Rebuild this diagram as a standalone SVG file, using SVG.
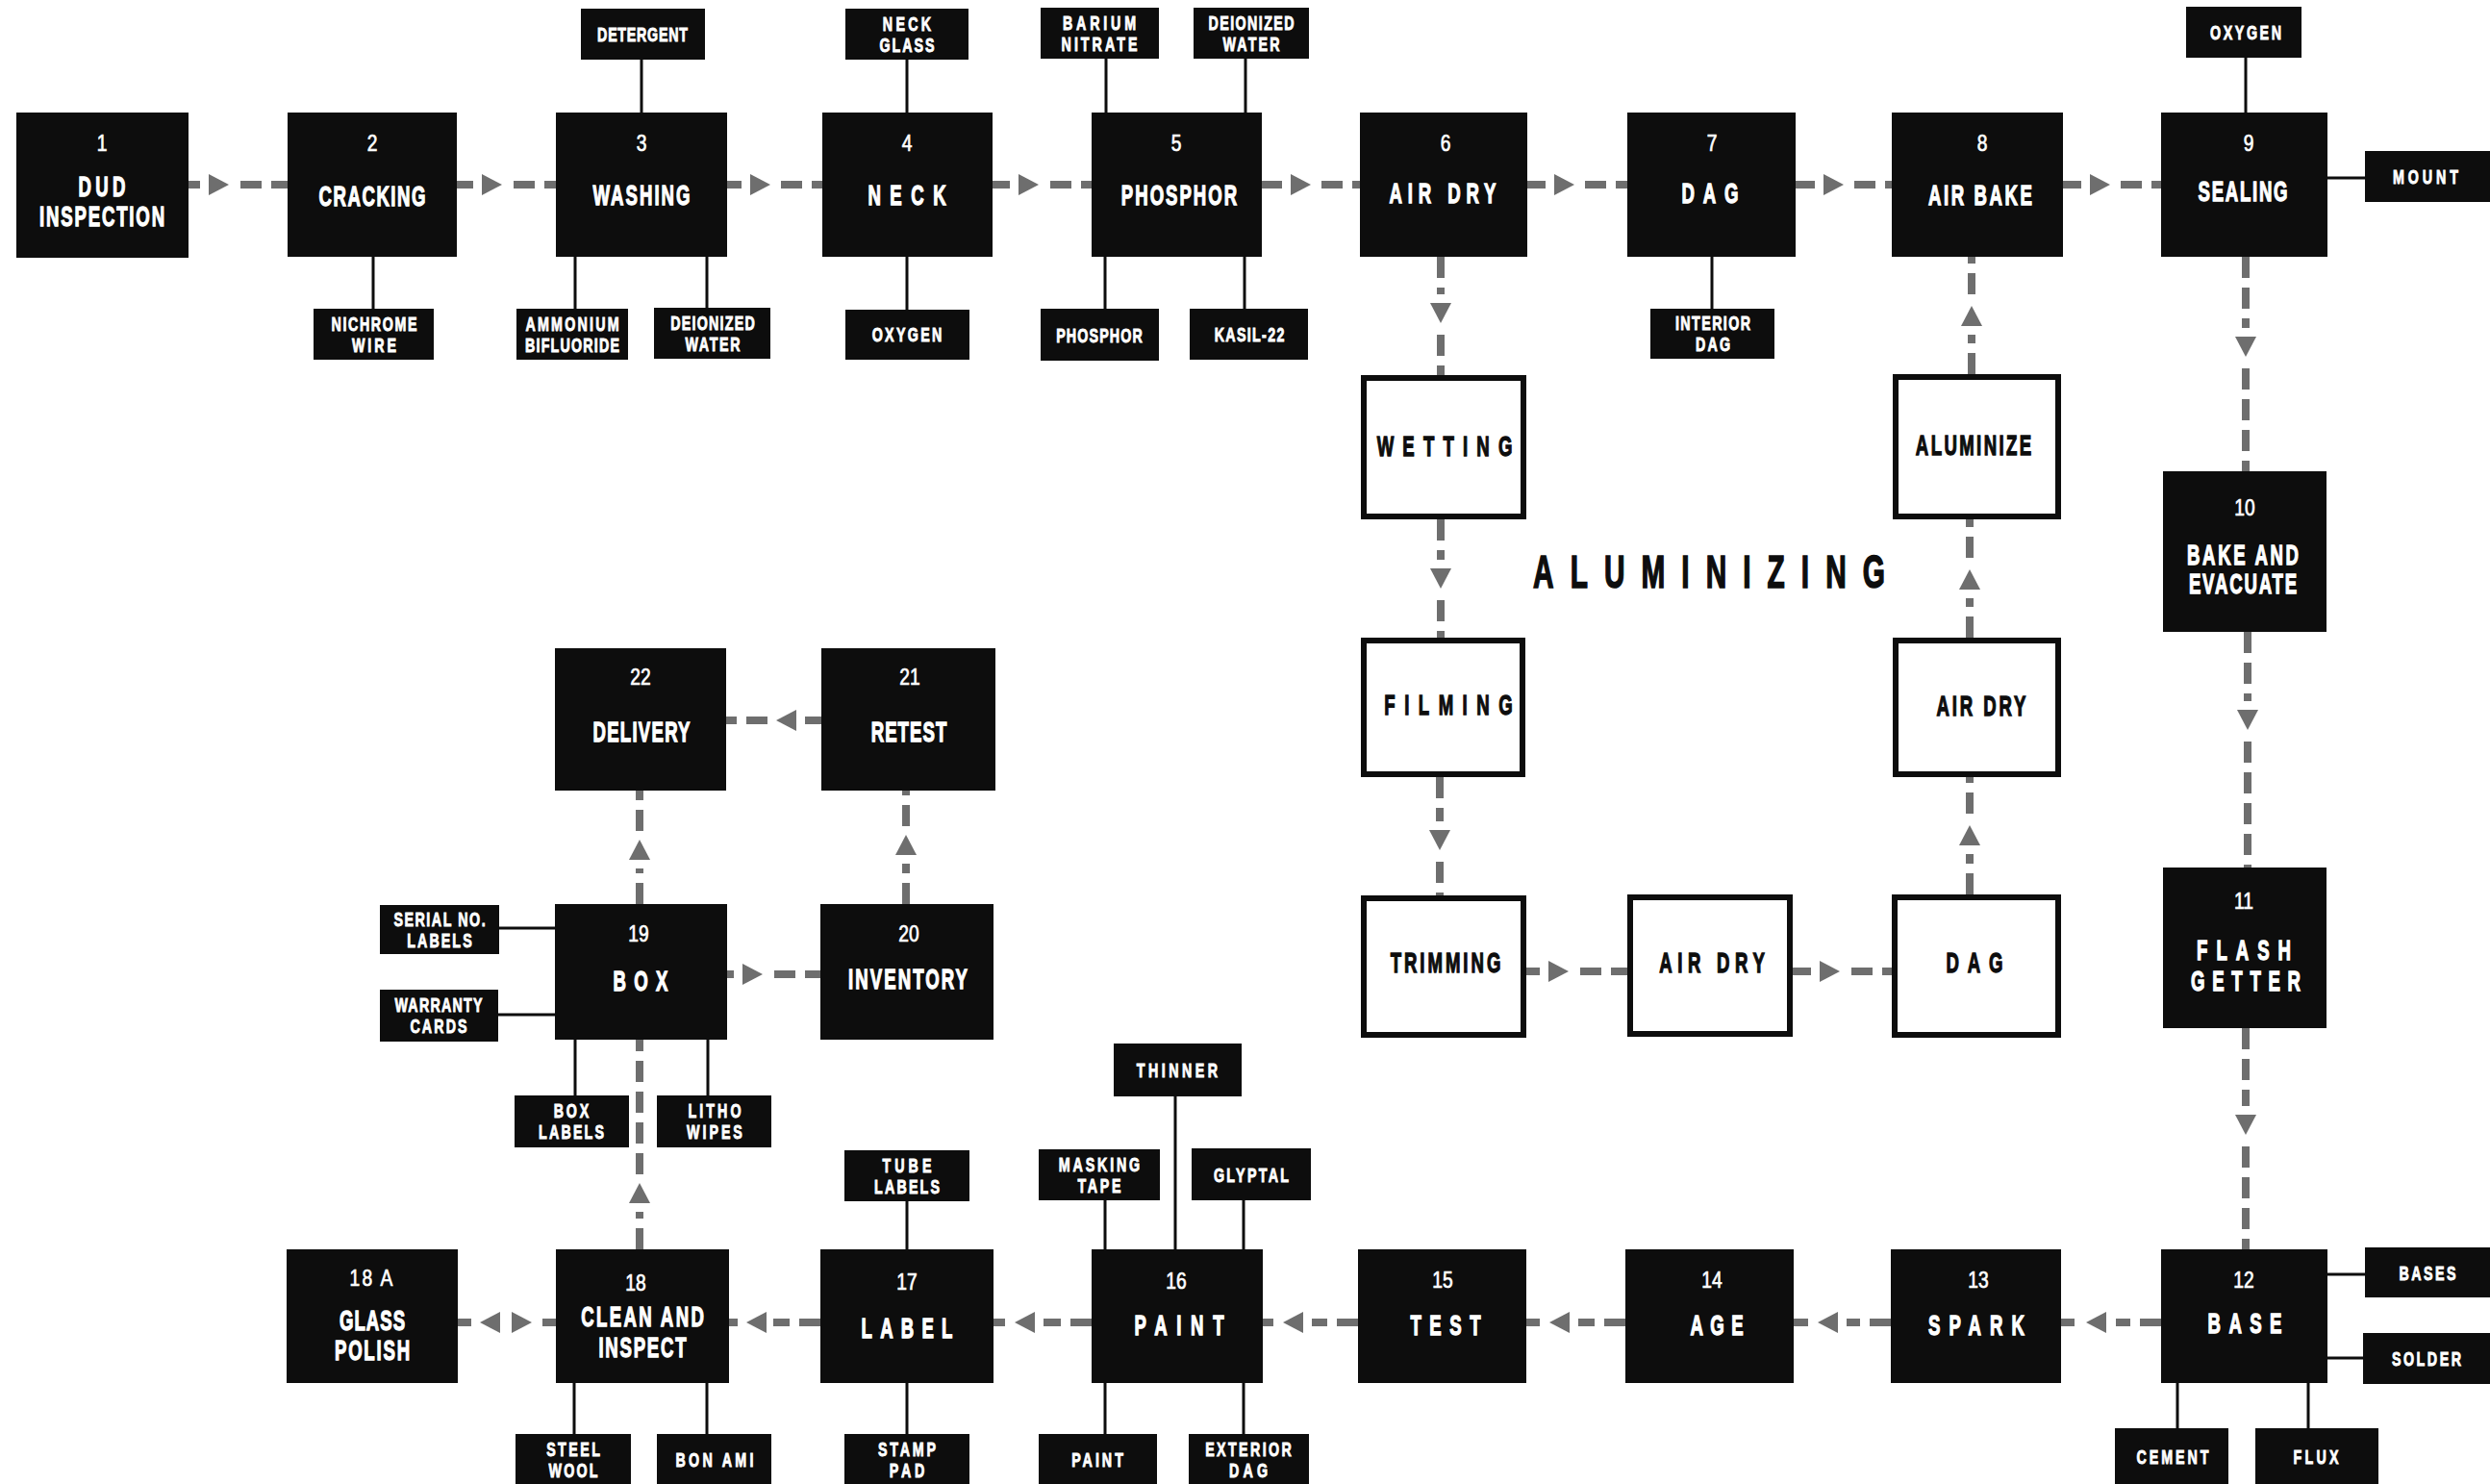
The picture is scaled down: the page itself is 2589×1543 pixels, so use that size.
<svg xmlns="http://www.w3.org/2000/svg" xmlns:xlink="http://www.w3.org/1999/xlink" width="2589" height="1543" viewBox="0 0 2589 1543">
<style>
.b{fill:#0d0d0d}
.w{fill:#fff;stroke:#0d0d0d;stroke-width:6}
.l{stroke:#0d0d0d;stroke-width:3;fill:none}
.d{stroke:#6e6e6e;stroke-width:8;stroke-dasharray:22 10;fill:none}
.t{fill:#6e6e6e}
text{font-family:"Liberation Sans",Arial,sans-serif;font-weight:bold;text-anchor:middle;fill:#fff;stroke:#fff}
.m{font-size:30px;stroke-width:1.3}
.n{font-size:24px;font-weight:normal;stroke-width:0.7}
.s{font-size:21px;stroke-width:0.9}
.k{fill:#0d0d0d;stroke:#0d0d0d}
.big{font-size:48px;fill:#0d0d0d;stroke:#0d0d0d;stroke-width:1.6}
</style>
<defs>
<path id="ar" d="M0,-11 L21,0 L0,11 Z"/>
</defs>
<rect width="2589" height="1543" fill="#fff"/>
<g id="connectors">
<path class="d" d="M196,192H208 M250,192H299"/><use xlink:href="#ar" class="t" transform="translate(217,192)"/>
<path class="d" d="M475,192H492 M534,192H578"/><use xlink:href="#ar" class="t" transform="translate(501,192)"/>
<path class="d" d="M756,192H771 M812,192H855"/><use xlink:href="#ar" class="t" transform="translate(780,192)"/>
<path class="d" d="M1032,192H1050 M1092,192H1135"/><use xlink:href="#ar" class="t" transform="translate(1059,192)"/>
<path class="d" d="M1312,192H1333 M1374,192H1414"/><use xlink:href="#ar" class="t" transform="translate(1342,192)"/>
<path class="d" d="M1588,192H1607 M1648,192H1692"/><use xlink:href="#ar" class="t" transform="translate(1616,192)"/>
<path class="d" d="M1867,192H1887 M1928,192H1967"/><use xlink:href="#ar" class="t" transform="translate(1896,192)"/>
<path class="d" d="M2145,192H2164 M2205,192H2247"/><use xlink:href="#ar" class="t" transform="translate(2173,192)"/>
<path class="d" d="M1498,267V306 M1498,348V390"/><use xlink:href="#ar" class="t" transform="translate(1498,315) rotate(90)"/>
<path class="d" d="M1498,540V582 M1498,624V663"/><use xlink:href="#ar" class="t" transform="translate(1498,591) rotate(90)"/>
<path class="d" d="M1497,808V854 M1497,896V931"/><use xlink:href="#ar" class="t" transform="translate(1497,863) rotate(90)"/>
<path class="d" d="M1587,1010H1601 M1643,1010H1692"/><use xlink:href="#ar" class="t" transform="translate(1610,1010)"/>
<path class="d" d="M1864,1010H1883 M1925,1010H1967"/><use xlink:href="#ar" class="t" transform="translate(1892,1010)"/>
<path class="d" d="M2048,930V888 M2048,846V808"/><use xlink:href="#ar" class="t" transform="translate(2048,879) rotate(-90)"/>
<path class="d" d="M2048,663V622 M2048,580V540"/><use xlink:href="#ar" class="t" transform="translate(2048,613) rotate(-90)"/>
<path class="d" d="M2050,389V348 M2050,306V267"/><use xlink:href="#ar" class="t" transform="translate(2050,339) rotate(-90)"/>
<path class="d" d="M2335,267V341 M2335,383V490"/><use xlink:href="#ar" class="t" transform="translate(2335,350) rotate(90)"/>
<path class="d" d="M2337,657V729 M2337,771V902"/><use xlink:href="#ar" class="t" transform="translate(2337,738) rotate(90)"/>
<path class="d" d="M2335,1069V1150 M2335,1192V1299"/><use xlink:href="#ar" class="t" transform="translate(2335,1159) rotate(90)"/>
<path class="d" d="M2247,1375H2200 M2157,1375H2143"/><use xlink:href="#ar" class="t" transform="translate(2190,1375) rotate(180)"/>
<path class="d" d="M1966,1375H1920 M1880,1375H1865"/><use xlink:href="#ar" class="t" transform="translate(1911,1375) rotate(180)"/>
<path class="d" d="M1690,1375H1641 M1601,1375H1587"/><use xlink:href="#ar" class="t" transform="translate(1632,1375) rotate(180)"/>
<path class="d" d="M1412,1375H1364 M1324,1375H1313"/><use xlink:href="#ar" class="t" transform="translate(1355,1375) rotate(180)"/>
<path class="d" d="M1135,1375H1085 M1045,1375H1033"/><use xlink:href="#ar" class="t" transform="translate(1076,1375) rotate(180)"/>
<path class="d" d="M853,1375H804 M767,1375H758"/><use xlink:href="#ar" class="t" transform="translate(797,1375) rotate(180)"/>
<path class="d" d="M476,1375H490 M564,1375H578"/><use xlink:href="#ar" class="t" transform="translate(520,1375) rotate(180)"/><use xlink:href="#ar" class="t" transform="translate(532,1375)"/>
<path class="d" d="M665,1299V1260 M665,1221V1081"/><use xlink:href="#ar" class="t" transform="translate(665,1251) rotate(-90)"/>
<path class="d" d="M665,940V903 M665,864V822"/><use xlink:href="#ar" class="t" transform="translate(665,894) rotate(-90)"/>
<path class="d" d="M942,940V898 M942,859V822"/><use xlink:href="#ar" class="t" transform="translate(942,889) rotate(-90)"/>
<path class="d" d="M756,1013H763 M805,1013H853"/><use xlink:href="#ar" class="t" transform="translate(772,1013)"/>
<path class="d" d="M854,749H837 M798,749H755"/><use xlink:href="#ar" class="t" transform="translate(828,749) rotate(180)"/>
<path class="l" d="M667,62V117 M943,62V117 M1150,61V117 M1295,61V117 M2335,60V117 M2420,185H2459
M388,267V321 M598,267V321 M735,267V320 M943,267V322 M1149,267V321 M1294,267V321 M1780,267V321
M519,965H577 M518,1055H577 M598,1081V1139 M736,1081V1139
M1222,1140V1299 M1149,1248V1299 M1293,1248V1299 M943,1249V1299
M597,1438V1491 M735,1438V1491 M943,1438V1491 M1149,1438V1491 M1293,1438V1491
M2420,1325H2459 M2420,1412H2457 M2264,1438V1485 M2400,1438V1485"/>
</g>

<g id="n1"><rect class="b" x="17" y="117" width="179" height="151"/>
<text class="n" transform="translate(106,157) scale(0.8,1)">1</text>
<text class="m" transform="translate(106,204) scale(0.62,1)" textLength="79" lengthAdjust="spacing">DUD</text>
<text class="m" transform="translate(106,235) scale(0.62,1)" textLength="210" lengthAdjust="spacing">INSPECTION</text></g>
<g id="n2"><rect class="b" x="299" y="117" width="176" height="150"/>
<text class="n" transform="translate(387,157) scale(0.8,1)">2</text>
<text class="m" transform="translate(387,214) scale(0.62,1)" textLength="179" lengthAdjust="spacing">CRACKING</text></g>
<g id="n3"><rect class="b" x="578" y="117" width="178" height="150"/>
<text class="n" transform="translate(667,157) scale(0.8,1)">3</text>
<text class="m" transform="translate(667,213) scale(0.62,1)" textLength="163" lengthAdjust="spacing">WASHING</text></g>
<g id="n4"><rect class="b" x="855" y="117" width="177" height="150"/>
<text class="n" transform="translate(943,157) scale(0.8,1)">4</text>
<text class="m" transform="translate(943,213) scale(0.62,1)" textLength="131" lengthAdjust="spacing">NECK</text></g>
<g id="n5"><rect class="b" x="1135" y="117" width="177" height="150"/>
<text class="n" transform="translate(1223,157) scale(0.8,1)">5</text>
<text class="m" transform="translate(1226,213) scale(0.62,1)" textLength="194" lengthAdjust="spacing">PHOSPHOR</text></g>
<g id="n6"><rect class="b" x="1414" y="117" width="174" height="150"/>
<text class="n" transform="translate(1503,157) scale(0.8,1)">6</text>
<text class="m" transform="translate(1500,211) scale(0.62,1)" textLength="179" lengthAdjust="spacing">AIR DRY</text></g>
<g id="n7"><rect class="b" x="1692" y="117" width="175" height="150"/>
<text class="n" transform="translate(1780,157) scale(0.8,1)">7</text>
<text class="m" transform="translate(1778,211) scale(0.62,1)" textLength="95" lengthAdjust="spacing">DAG</text></g>
<g id="n8"><rect class="b" x="1967" y="117" width="178" height="150"/>
<text class="n" transform="translate(2061,157) scale(0.8,1)">8</text>
<text class="m" transform="translate(2059,213) scale(0.62,1)" textLength="174" lengthAdjust="spacing">AIR BAKE</text></g>
<g id="n9"><rect class="b" x="2247" y="117" width="173" height="150"/>
<text class="n" transform="translate(2338,157) scale(0.8,1)">9</text>
<text class="m" transform="translate(2332,209) scale(0.62,1)" textLength="150" lengthAdjust="spacing">SEALING</text></g>
<g id="n10"><rect class="b" x="2249" y="490" width="170" height="167"/>
<text class="n" transform="translate(2334,536) scale(0.8,1)">10</text>
<text class="m" transform="translate(2332,587) scale(0.62,1)" textLength="187" lengthAdjust="spacing">BAKE AND</text>
<text class="m" transform="translate(2332,617) scale(0.62,1)" textLength="181" lengthAdjust="spacing">EVACUATE</text></g>
<g id="n11"><rect class="b" x="2249" y="902" width="170" height="167"/>
<text class="n" transform="translate(2333,945) scale(0.8,1)">11</text>
<text class="m" transform="translate(2333,998) scale(0.62,1)" textLength="158" lengthAdjust="spacing">FLASH</text>
<text class="m" transform="translate(2335,1030) scale(0.62,1)" textLength="184" lengthAdjust="spacing">GETTER</text></g>
<g id="n12"><rect class="b" x="2247" y="1299" width="173" height="139"/>
<text class="n" transform="translate(2333,1339) scale(0.8,1)">12</text>
<text class="m" transform="translate(2334,1386) scale(0.62,1)" textLength="124" lengthAdjust="spacing">BASE</text></g>
<g id="n13"><rect class="b" x="1966" y="1299" width="177" height="139"/>
<text class="n" transform="translate(2057,1339) scale(0.8,1)">13</text>
<text class="m" transform="translate(2055,1388) scale(0.62,1)" textLength="161" lengthAdjust="spacing">SPARK</text></g>
<g id="n14"><rect class="b" x="1690" y="1299" width="175" height="139"/>
<text class="n" transform="translate(1780,1339) scale(0.8,1)">14</text>
<text class="m" transform="translate(1785,1388) scale(0.62,1)" textLength="89" lengthAdjust="spacing">AGE</text></g>
<g id="n15"><rect class="b" x="1412" y="1299" width="175" height="139"/>
<text class="n" transform="translate(1500,1339) scale(0.8,1)">15</text>
<text class="m" transform="translate(1503,1388) scale(0.62,1)" textLength="118" lengthAdjust="spacing">TEST</text></g>
<g id="n16"><rect class="b" x="1135" y="1299" width="178" height="139"/>
<text class="n" transform="translate(1223,1340) scale(0.8,1)">16</text>
<text class="m" transform="translate(1226,1388) scale(0.62,1)" textLength="150" lengthAdjust="spacing">PAINT</text></g>
<g id="n17"><rect class="b" x="853" y="1299" width="180" height="139"/>
<text class="n" transform="translate(943,1341) scale(0.8,1)">17</text>
<text class="m" transform="translate(943,1391) scale(0.62,1)" textLength="153" lengthAdjust="spacing">LABEL</text></g>
<g id="n18"><rect class="b" x="578" y="1299" width="180" height="139"/>
<text class="n" transform="translate(661,1342) scale(0.8,1)">18</text>
<text class="m" transform="translate(668,1379) scale(0.62,1)" textLength="206" lengthAdjust="spacing">CLEAN AND</text>
<text class="m" transform="translate(668,1411) scale(0.62,1)" textLength="147" lengthAdjust="spacing">INSPECT</text></g>
<g id="n18a"><rect class="b" x="298" y="1299" width="178" height="139"/>
<text class="n" transform="translate(386,1337) scale(0.8,1)" textLength="56" lengthAdjust="spacing">18 A</text>
<text class="m" transform="translate(387,1383) scale(0.62,1)" textLength="110" lengthAdjust="spacing">GLASS</text>
<text class="m" transform="translate(387,1414) scale(0.62,1)" textLength="126" lengthAdjust="spacing">POLISH</text></g>
<g id="n19"><rect class="b" x="577" y="940" width="179" height="141"/>
<text class="n" transform="translate(664,979) scale(0.8,1)">19</text>
<text class="m" transform="translate(666,1030) scale(0.62,1)" textLength="92" lengthAdjust="spacing">BOX</text></g>
<g id="n20"><rect class="b" x="853" y="940" width="180" height="141"/>
<text class="n" transform="translate(945,979) scale(0.8,1)">20</text>
<text class="m" transform="translate(944,1028) scale(0.62,1)" textLength="200" lengthAdjust="spacing">INVENTORY</text></g>
<g id="n21"><rect class="b" x="854" y="674" width="181" height="148"/>
<text class="n" transform="translate(946,712) scale(0.8,1)">21</text>
<text class="m" transform="translate(945,771) scale(0.62,1)" textLength="127" lengthAdjust="spacing">RETEST</text></g>
<g id="n22"><rect class="b" x="577" y="674" width="178" height="148"/>
<text class="n" transform="translate(666,712) scale(0.8,1)">22</text>
<text class="m" transform="translate(667,771) scale(0.62,1)" textLength="163" lengthAdjust="spacing">DELIVERY</text></g>

<g id="wetting"><rect class="w" x="1418" y="393" width="166" height="144"/>
<text class="m k" transform="translate(1502,474) scale(0.62,1)" textLength="227" lengthAdjust="spacing">WETTING</text></g>
<g id="filming"><rect class="w" x="1418" y="666" width="165" height="139"/>
<text class="m k" transform="translate(1506,743) scale(0.62,1)" textLength="215" lengthAdjust="spacing">FILMING</text></g>
<g id="trimming"><rect class="w" x="1418" y="934" width="166" height="142"/>
<text class="m k" transform="translate(1503,1011) scale(0.62,1)" textLength="185" lengthAdjust="spacing">TRIMMING</text></g>
<g id="airdry-b"><rect class="w" x="1695" y="933" width="166" height="142"/>
<text class="m k" transform="translate(1780,1011) scale(0.62,1)" textLength="177" lengthAdjust="spacing">AIR DRY</text></g>
<g id="dag-w"><rect class="w" x="1970" y="933" width="170" height="143"/>
<text class="m k" transform="translate(2053,1011) scale(0.62,1)" textLength="95" lengthAdjust="spacing">DAG</text></g>
<g id="airdry-r"><rect class="w" x="1971" y="666" width="169" height="139"/>
<text class="m k" transform="translate(2060,744) scale(0.62,1)" textLength="150" lengthAdjust="spacing">AIR DRY</text></g>
<g id="aluminize"><rect class="w" x="1971" y="392" width="169" height="145"/>
<text class="m k" transform="translate(2052,473) scale(0.62,1)" textLength="194" lengthAdjust="spacing">ALUMINIZE</text></g>
<g id="title"><text class="big" transform="translate(1777,611) scale(0.62,1)" textLength="590" lengthAdjust="spacing">ALUMINIZING</text></g>

<g id="s-detergent"><rect class="b" x="604" y="9" width="129" height="53"/>
<text class="s" transform="translate(668,43) scale(0.68,1)" textLength="138" lengthAdjust="spacing">DETERGENT</text></g>
<g id="s-neckglass"><rect class="b" x="879" y="9" width="128" height="53"/>
<text class="s" transform="translate(943,32) scale(0.68,1)" textLength="74" lengthAdjust="spacing">NECK</text>
<text class="s" transform="translate(943,54) scale(0.68,1)" textLength="84" lengthAdjust="spacing">GLASS</text></g>
<g id="s-barium"><rect class="b" x="1082" y="8" width="123" height="53"/>
<text class="s" transform="translate(1143,31) scale(0.68,1)" textLength="112" lengthAdjust="spacing">BARIUM</text>
<text class="s" transform="translate(1143,53) scale(0.68,1)" textLength="116" lengthAdjust="spacing">NITRATE</text></g>
<g id="s-deion1"><rect class="b" x="1241" y="8" width="120" height="53"/>
<text class="s" transform="translate(1301,31) scale(0.68,1)" textLength="131" lengthAdjust="spacing">DEIONIZED</text>
<text class="s" transform="translate(1301,53) scale(0.68,1)" textLength="87" lengthAdjust="spacing">WATER</text></g>
<g id="s-oxygen9"><rect class="b" x="2273" y="7" width="120" height="53"/>
<text class="s" transform="translate(2335,41) scale(0.68,1)" textLength="109" lengthAdjust="spacing">OXYGEN</text></g>
<g id="s-mount"><rect class="b" x="2459" y="157" width="130" height="53"/>
<text class="s" transform="translate(2522,191) scale(0.68,1)" textLength="100" lengthAdjust="spacing">MOUNT</text></g>
<g id="s-nichrome"><rect class="b" x="326" y="321" width="125" height="53"/>
<text class="s" transform="translate(389,344) scale(0.68,1)" textLength="131" lengthAdjust="spacing">NICHROME</text>
<text class="s" transform="translate(389,366) scale(0.68,1)" textLength="68" lengthAdjust="spacing">WIRE</text></g>
<g id="s-ammonium"><rect class="b" x="537" y="321" width="116" height="53"/>
<text class="s" transform="translate(595,344) scale(0.68,1)" textLength="143" lengthAdjust="spacing">AMMONIUM</text>
<text class="s" transform="translate(595,366) scale(0.68,1)" textLength="144" lengthAdjust="spacing">BIFLUORIDE</text></g>
<g id="s-deion2"><rect class="b" x="680" y="320" width="121" height="53"/>
<text class="s" transform="translate(741,343) scale(0.68,1)" textLength="129" lengthAdjust="spacing">DEIONIZED</text>
<text class="s" transform="translate(741,365) scale(0.68,1)" textLength="84" lengthAdjust="spacing">WATER</text></g>
<g id="s-oxygen4"><rect class="b" x="879" y="322" width="129" height="52"/>
<text class="s" transform="translate(943,355) scale(0.68,1)" textLength="107" lengthAdjust="spacing">OXYGEN</text></g>
<g id="s-phosphor"><rect class="b" x="1082" y="321" width="123" height="54"/>
<text class="s" transform="translate(1143,356) scale(0.68,1)" textLength="132" lengthAdjust="spacing">PHOSPHOR</text></g>
<g id="s-kasil"><rect class="b" x="1237" y="321" width="123" height="53"/>
<text class="s" transform="translate(1299,355) scale(0.68,1)" textLength="107" lengthAdjust="spacing">KASIL-22</text></g>
<g id="s-intdag"><rect class="b" x="1716" y="321" width="129" height="52"/>
<text class="s" transform="translate(1781,343) scale(0.68,1)" textLength="115" lengthAdjust="spacing">INTERIOR</text>
<text class="s" transform="translate(1781,365) scale(0.68,1)" textLength="53" lengthAdjust="spacing">DAG</text></g>
<g id="s-serial"><rect class="b" x="395" y="941" width="124" height="51"/>
<text class="s" transform="translate(457,963) scale(0.68,1)" textLength="140" lengthAdjust="spacing">SERIAL NO.</text>
<text class="s" transform="translate(457,985) scale(0.68,1)" textLength="99" lengthAdjust="spacing">LABELS</text></g>
<g id="s-warranty"><rect class="b" x="395" y="1029" width="123" height="54"/>
<text class="s" transform="translate(456,1052) scale(0.68,1)" textLength="134" lengthAdjust="spacing">WARRANTY</text>
<text class="s" transform="translate(456,1074) scale(0.68,1)" textLength="87" lengthAdjust="spacing">CARDS</text></g>
<g id="s-boxlabels"><rect class="b" x="535" y="1139" width="119" height="54"/>
<text class="s" transform="translate(594,1162) scale(0.68,1)" textLength="54" lengthAdjust="spacing">BOX</text>
<text class="s" transform="translate(594,1184) scale(0.68,1)" textLength="100" lengthAdjust="spacing">LABELS</text></g>
<g id="s-litho"><rect class="b" x="683" y="1139" width="119" height="54"/>
<text class="s" transform="translate(743,1162) scale(0.68,1)" textLength="81" lengthAdjust="spacing">LITHO</text>
<text class="s" transform="translate(743,1184) scale(0.68,1)" textLength="85" lengthAdjust="spacing">WIPES</text></g>
<g id="s-thinner"><rect class="b" x="1158" y="1085" width="133" height="55"/>
<text class="s" transform="translate(1224,1120) scale(0.68,1)" textLength="124" lengthAdjust="spacing">THINNER</text></g>
<g id="s-masking"><rect class="b" x="1080" y="1195" width="126" height="53"/>
<text class="s" transform="translate(1143,1218) scale(0.68,1)" textLength="124" lengthAdjust="spacing">MASKING</text>
<text class="s" transform="translate(1143,1240) scale(0.68,1)" textLength="66" lengthAdjust="spacing">TAPE</text></g>
<g id="s-glyptal"><rect class="b" x="1239" y="1194" width="124" height="54"/>
<text class="s" transform="translate(1301,1229) scale(0.68,1)" textLength="115" lengthAdjust="spacing">GLYPTAL</text></g>
<g id="s-tubelabels"><rect class="b" x="878" y="1196" width="130" height="53"/>
<text class="s" transform="translate(943,1219) scale(0.68,1)" textLength="75" lengthAdjust="spacing">TUBE</text>
<text class="s" transform="translate(943,1241) scale(0.68,1)" textLength="100" lengthAdjust="spacing">LABELS</text></g>
<g id="s-steelwool"><rect class="b" x="536" y="1491" width="120" height="52"/>
<text class="s" transform="translate(596,1514) scale(0.68,1)" textLength="82" lengthAdjust="spacing">STEEL</text>
<text class="s" transform="translate(596,1536) scale(0.68,1)" textLength="75" lengthAdjust="spacing">WOOL</text></g>
<g id="s-bonami"><rect class="b" x="683" y="1491" width="119" height="52"/>
<text class="s" transform="translate(743,1525) scale(0.68,1)" textLength="119" lengthAdjust="spacing">BON AMI</text></g>
<g id="s-stamppad"><rect class="b" x="878" y="1491" width="130" height="52"/>
<text class="s" transform="translate(943,1514) scale(0.68,1)" textLength="88" lengthAdjust="spacing">STAMP</text>
<text class="s" transform="translate(943,1536) scale(0.68,1)" textLength="54" lengthAdjust="spacing">PAD</text></g>
<g id="s-paint"><rect class="b" x="1080" y="1491" width="123" height="52"/>
<text class="s" transform="translate(1141,1525) scale(0.68,1)" textLength="79" lengthAdjust="spacing">PAINT</text></g>
<g id="s-extdag"><rect class="b" x="1236" y="1491" width="125" height="52"/>
<text class="s" transform="translate(1298,1514) scale(0.68,1)" textLength="132" lengthAdjust="spacing">EXTERIOR</text>
<text class="s" transform="translate(1298,1536) scale(0.68,1)" textLength="59" lengthAdjust="spacing">DAG</text></g>
<g id="s-bases"><rect class="b" x="2459" y="1297" width="130" height="52"/>
<text class="s" transform="translate(2524,1331) scale(0.68,1)" textLength="87" lengthAdjust="spacing">BASES</text></g>
<g id="s-solder"><rect class="b" x="2457" y="1386" width="132" height="53"/>
<text class="s" transform="translate(2523,1420) scale(0.68,1)" textLength="106" lengthAdjust="spacing">SOLDER</text></g>
<g id="s-cement"><rect class="b" x="2199" y="1485" width="118" height="58"/>
<text class="s" transform="translate(2259,1522) scale(0.68,1)" textLength="110" lengthAdjust="spacing">CEMENT</text></g>
<g id="s-flux"><rect class="b" x="2345" y="1485" width="128" height="58"/>
<text class="s" transform="translate(2408,1522) scale(0.68,1)" textLength="69" lengthAdjust="spacing">FLUX</text></g>
</svg>
